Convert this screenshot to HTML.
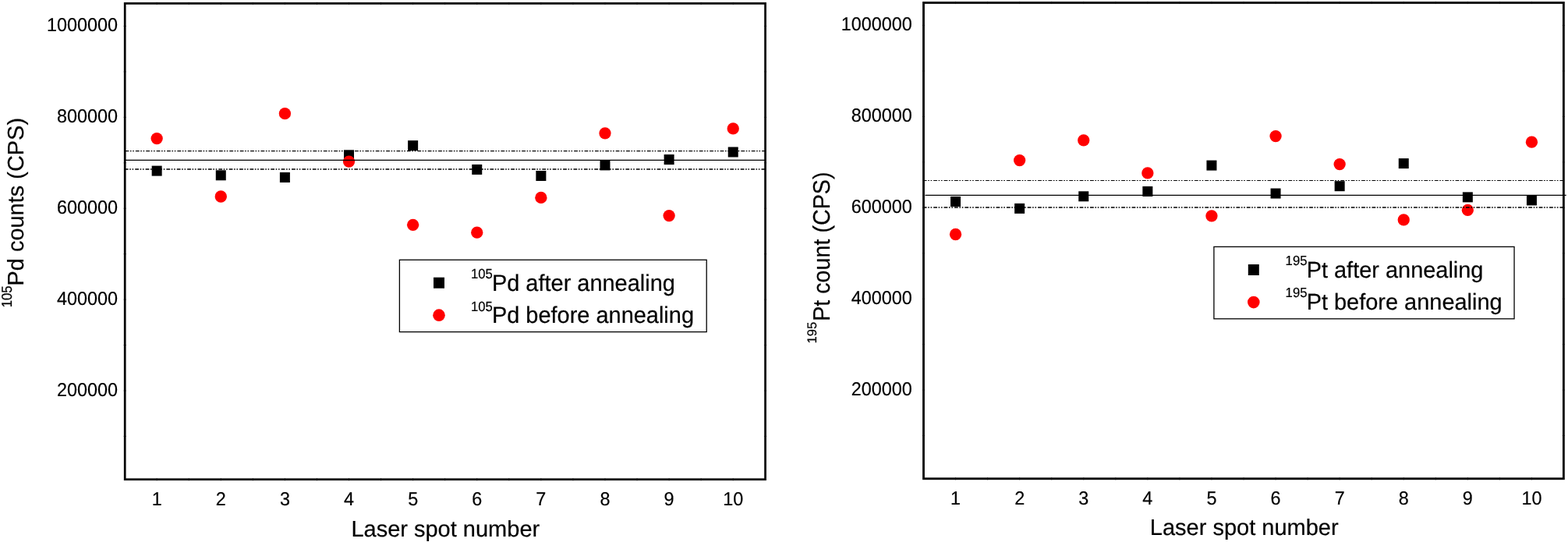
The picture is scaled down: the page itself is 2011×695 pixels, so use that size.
<!DOCTYPE html>
<html lang="en"><head><meta charset="utf-8"><title>Laser spot counts before and after annealing</title>
<style>
html,body{margin:0;padding:0;background:#fff;}
body{width:2011px;height:695px;overflow:hidden;}
svg{display:block;font-family:"Liberation Sans", Arial, Helvetica, sans-serif;fill:#000;text-rendering:geometricPrecision;}
.fr{fill:none;stroke:#000;}
.tk{stroke:#000;stroke-width:0.9;fill:none;stroke-opacity:0.6;}
.ln{stroke:#000;fill:none;stroke-width:1.25;}
.dd{stroke-dasharray:4.8 1.6 1.65 1.7 1.65 1.988;}
.rd{fill:#ff0000;}
text{stroke:#000;stroke-width:0.2px;stroke-linejoin:round;}
.lg{fill:#fff;stroke:#000;stroke-width:1.3;}
.tl{font-size:24.3px;}
.al{font-size:29.0px;}
.yl{font-size:28.95px;}
.lt{font-size:28.95px;}
.sp{font-size:16.7px;}
</style></head><body>
<svg width="2011" height="695" viewBox="0 0 2011 695">
<rect x="0" y="0" width="2011" height="695" fill="#fff"/>
<g id="left">
<g>
<rect x="194.65" y="212.6" width="13" height="13"/>
<rect x="276.77" y="218.3" width="13" height="13"/>
<rect x="358.89" y="221" width="13" height="13"/>
<rect x="441.01" y="192.3" width="13" height="13"/>
<rect x="523.13" y="180.15" width="13" height="13"/>
<rect x="605.25" y="210.9" width="13" height="13"/>
<rect x="687.37" y="219" width="13" height="13"/>
<rect x="769.49" y="205.4" width="13" height="13"/>
<rect x="851.61" y="198.1" width="13" height="13"/>
<rect x="933.73" y="188.5" width="13" height="13"/>
</g>
<g class="rd">
<circle cx="201.15" cy="177.6" r="7.65"/>
<circle cx="283.27" cy="252" r="7.65"/>
<circle cx="365.39" cy="145.7" r="7.65"/>
<circle cx="447.51" cy="207.05" r="7.65"/>
<circle cx="529.63" cy="288.3" r="7.65"/>
<circle cx="611.75" cy="298.2" r="7.65"/>
<circle cx="693.87" cy="253.4" r="7.65"/>
<circle cx="775.99" cy="170.8" r="7.65"/>
<circle cx="858.11" cy="276.6" r="7.65"/>
<circle cx="940.23" cy="164.9" r="7.65"/>
</g>
<line class="ln dd" style="stroke-width:1.15" x1="160.45" y1="193.55" x2="981.55" y2="193.55"/>
<line class="ln" x1="160.2" y1="205.45" x2="981.55" y2="205.45"/>
<line class="ln dd" style="stroke-width:1.45" x1="159.8" y1="216.95" x2="981.55" y2="216.95"/>
<path class="tk" d="M201.15 613.1V616.4M201.15 2.75V6.05M242.21 613.1V616.4M242.21 2.75V6.05M283.27 613.1V616.4M283.27 2.75V6.05M324.33 613.1V616.4M324.33 2.75V6.05M365.39 613.1V616.4M365.39 2.75V6.05M406.45 613.1V616.4M406.45 2.75V6.05M447.51 613.1V616.4M447.51 2.75V6.05M488.57 613.1V616.4M488.57 2.75V6.05M529.63 613.1V616.4M529.63 2.75V6.05M570.69 613.1V616.4M570.69 2.75V6.05M611.75 613.1V616.4M611.75 2.75V6.05M652.81 613.1V616.4M652.81 2.75V6.05M693.87 613.1V616.4M693.87 2.75V6.05M734.93 613.1V616.4M734.93 2.75V6.05M775.99 613.1V616.4M775.99 2.75V6.05M817.05 613.1V616.4M817.05 2.75V6.05M858.11 613.1V616.4M858.11 2.75V6.05M899.17 613.1V616.4M899.17 2.75V6.05M940.23 613.1V616.4M940.23 2.75V6.05M158.55 33.5H161.85M979.9 33.5H983.2M158.55 91.94H161.85M979.9 91.94H983.2M158.55 150.37H161.85M979.9 150.37H983.2M158.55 208.81H161.85M979.9 208.81H983.2M158.55 267.24H161.85M979.9 267.24H983.2M158.55 325.68H161.85M979.9 325.68H983.2M158.55 384.11H161.85M979.9 384.11H983.2M158.55 442.55H161.85M979.9 442.55H983.2M158.55 500.98H161.85M979.9 500.98H983.2M158.55 559.41H161.85M979.9 559.41H983.2"/>
<rect class="fr" x="160.2" y="4.4" width="821.35" height="610.35" stroke-width="2.7"/>
<text class="tl" text-anchor="end" transform="translate(151.1 39.85) scale(0.963 1.0)">1000000</text>
<text class="tl" text-anchor="end" transform="translate(151.1 156.8) scale(0.963 1.0)">800000</text>
<text class="tl" text-anchor="end" transform="translate(151.1 273.75) scale(0.963 1.0)">600000</text>
<text class="tl" text-anchor="end" transform="translate(151.1 390.7) scale(0.963 1.0)">400000</text>
<text class="tl" text-anchor="end" transform="translate(151.1 507.65) scale(0.963 1.0)">200000</text>
<text class="tl" text-anchor="middle" transform="translate(201.15 647.8) scale(0.963 1.0)">1</text>
<text class="tl" text-anchor="middle" transform="translate(283.27 647.8) scale(0.963 1.0)">2</text>
<text class="tl" text-anchor="middle" transform="translate(365.39 647.8) scale(0.963 1.0)">3</text>
<text class="tl" text-anchor="middle" transform="translate(447.51 647.8) scale(0.963 1.0)">4</text>
<text class="tl" text-anchor="middle" transform="translate(529.63 647.8) scale(0.963 1.0)">5</text>
<text class="tl" text-anchor="middle" transform="translate(611.75 647.8) scale(0.963 1.0)">6</text>
<text class="tl" text-anchor="middle" transform="translate(693.87 647.8) scale(0.963 1.0)">7</text>
<text class="tl" text-anchor="middle" transform="translate(775.99 647.8) scale(0.963 1.0)">8</text>
<text class="tl" text-anchor="middle" transform="translate(858.11 647.8) scale(0.963 1.0)">9</text>
<text class="tl" text-anchor="middle" transform="translate(940.23 647.8) scale(0.963 1.0)">10</text>
<text class="al" text-anchor="middle" x="571.3" y="688">Laser spot number</text>
<text class="sp" transform="translate(14.5 394.35) rotate(-90) scale(1 1.11)">105</text>
<text font-size="28.95" transform="translate(29.9 366.47) rotate(-90) scale(1 1)">Pd counts (CPS)</text>
<rect class="lg" x="512.4" y="333.25" width="393.8" height="92.35"/>
<rect x="556" y="355.7" width="14" height="14"/>
<circle class="rd" cx="563" cy="404.15" r="7.8"/>
<text class="sp" transform="translate(603.9 357.1) scale(1 1.055)">105</text>
<text class="lt" transform="translate(630.93 372.7) scale(1 1.03)">Pd after annealing</text>
<text class="sp" transform="translate(603.9 398.5) scale(1 1.055)">105</text>
<text class="lt" transform="translate(630.93 414.1) scale(1 1.03)">Pd before annealing</text>
</g>
<g id="right">
<g>
<rect x="1219.05" y="251.95" width="13" height="13"/>
<rect x="1301.15" y="260.85" width="13" height="13"/>
<rect x="1383.25" y="245.3" width="13" height="13"/>
<rect x="1465.35" y="238.95" width="13" height="13"/>
<rect x="1547.45" y="205.6" width="13" height="13"/>
<rect x="1629.55" y="241.55" width="13" height="13"/>
<rect x="1711.65" y="232.2" width="13" height="13"/>
<rect x="1793.75" y="203.1" width="13" height="13"/>
<rect x="1875.85" y="246.35" width="13" height="13"/>
<rect x="1957.95" y="250.4" width="13" height="13"/>
</g>
<g class="rd">
<circle cx="1225.55" cy="300.5" r="7.65"/>
<circle cx="1307.65" cy="205.6" r="7.65"/>
<circle cx="1389.75" cy="179.8" r="7.65"/>
<circle cx="1471.85" cy="221.9" r="7.65"/>
<circle cx="1553.95" cy="276.8" r="7.65"/>
<circle cx="1636.05" cy="174.6" r="7.65"/>
<circle cx="1718.15" cy="210.6" r="7.65"/>
<circle cx="1800.25" cy="281.9" r="7.65"/>
<circle cx="1882.35" cy="269.4" r="7.65"/>
<circle cx="1964.45" cy="182.2" r="7.65"/>
</g>
<line class="ln dd" style="stroke-width:1.15" x1="1183.8" y1="231.45" x2="2005.4" y2="231.45"/>
<line class="ln" x1="1186.5" y1="250.4" x2="2008.7" y2="250.4"/>
<line class="ln dd" style="stroke-width:1.45" x1="1183.8" y1="266" x2="2005.4" y2="266"/>
<path class="tk" d="M1225.55 612.15V615.45M1225.55 1.85V5.15M1266.6 612.15V615.45M1266.6 1.85V5.15M1307.65 612.15V615.45M1307.65 1.85V5.15M1348.7 612.15V615.45M1348.7 1.85V5.15M1389.75 612.15V615.45M1389.75 1.85V5.15M1430.8 612.15V615.45M1430.8 1.85V5.15M1471.85 612.15V615.45M1471.85 1.85V5.15M1512.9 612.15V615.45M1512.9 1.85V5.15M1553.95 612.15V615.45M1553.95 1.85V5.15M1595 612.15V615.45M1595 1.85V5.15M1636.05 612.15V615.45M1636.05 1.85V5.15M1677.1 612.15V615.45M1677.1 1.85V5.15M1718.15 612.15V615.45M1718.15 1.85V5.15M1759.2 612.15V615.45M1759.2 1.85V5.15M1800.25 612.15V615.45M1800.25 1.85V5.15M1841.3 612.15V615.45M1841.3 1.85V5.15M1882.35 612.15V615.45M1882.35 1.85V5.15M1923.4 612.15V615.45M1923.4 1.85V5.15M1964.45 612.15V615.45M1964.45 1.85V5.15M1182.85 32.6H1186.15M2003.75 32.6H2007.05M1182.85 91.03H1186.15M2003.75 91.03H2007.05M1182.85 149.47H1186.15M2003.75 149.47H2007.05M1182.85 207.91H1186.15M2003.75 207.91H2007.05M1182.85 266.34H1186.15M2003.75 266.34H2007.05M1182.85 324.78H1186.15M2003.75 324.78H2007.05M1182.85 383.21H1186.15M2003.75 383.21H2007.05M1182.85 441.65H1186.15M2003.75 441.65H2007.05M1182.85 500.08H1186.15M2003.75 500.08H2007.05M1182.85 558.51H1186.15M2003.75 558.51H2007.05"/>
<rect class="fr" x="1184.5" y="3.5" width="820.9" height="610.3" stroke-width="2.8"/>
<text class="tl" text-anchor="end" transform="translate(1169.75 38.95) scale(0.963 1.0)">1000000</text>
<text class="tl" text-anchor="end" transform="translate(1169.75 155.9) scale(0.963 1.0)">800000</text>
<text class="tl" text-anchor="end" transform="translate(1169.75 272.85) scale(0.963 1.0)">600000</text>
<text class="tl" text-anchor="end" transform="translate(1169.75 389.8) scale(0.963 1.0)">400000</text>
<text class="tl" text-anchor="end" transform="translate(1169.75 506.75) scale(0.963 1.0)">200000</text>
<text class="tl" text-anchor="middle" transform="translate(1225.55 646.9) scale(0.963 1.0)">1</text>
<text class="tl" text-anchor="middle" transform="translate(1307.65 646.9) scale(0.963 1.0)">2</text>
<text class="tl" text-anchor="middle" transform="translate(1389.75 646.9) scale(0.963 1.0)">3</text>
<text class="tl" text-anchor="middle" transform="translate(1471.85 646.9) scale(0.963 1.0)">4</text>
<text class="tl" text-anchor="middle" transform="translate(1553.95 646.9) scale(0.963 1.0)">5</text>
<text class="tl" text-anchor="middle" transform="translate(1636.05 646.9) scale(0.963 1.0)">6</text>
<text class="tl" text-anchor="middle" transform="translate(1718.15 646.9) scale(0.963 1.0)">7</text>
<text class="tl" text-anchor="middle" transform="translate(1800.25 646.9) scale(0.963 1.0)">8</text>
<text class="tl" text-anchor="middle" transform="translate(1882.35 646.9) scale(0.963 1.0)">9</text>
<text class="tl" text-anchor="middle" transform="translate(1964.45 646.9) scale(0.963 1.0)">10</text>
<text class="al" text-anchor="middle" x="1595.7" y="686.4">Laser spot number</text>
<text class="sp" transform="translate(1047.3 440.55) rotate(-90) scale(1 1.0)">195</text>
<text font-size="28.7" transform="translate(1064 411.81) rotate(-90) scale(1 1.058)">Pt count (CPS)</text>
<rect class="lg" x="1556.9" y="316.45" width="385.15" height="92.35"/>
<rect x="1600.8" y="339" width="14" height="14"/>
<circle class="rd" cx="1607.8" cy="387.6" r="7.8"/>
<text class="sp" transform="translate(1648.6 339.8) scale(1 1.04)">195</text>
<text class="lt" transform="translate(1675.63 355.8) scale(1 1.012)">Pt after annealing</text>
<text class="sp" transform="translate(1648.6 381.1) scale(1 1.04)">195</text>
<text class="lt" transform="translate(1675.63 397.1) scale(1 1.012)">Pt before annealing</text>
</g>
</svg>
</body></html>
